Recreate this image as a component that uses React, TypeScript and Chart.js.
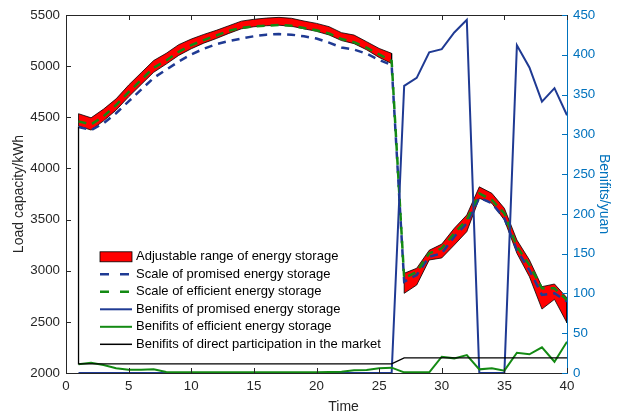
import React, { useEffect, useRef } from 'react';
import { Chart, registerables } from 'chart.js';

Chart.register(...registerables);

const FONT = "'Liberation Sans', Arial, Helvetica, sans-serif";
const AXIS_COLOR = '#262626';
const RIGHT_COLOR = '#0072bd';
const NAVY = '#1f3a93';
const GREEN = '#138a13';

// ---- data ----
const time = [1, 2, 3, 4, 5, 6, 7, 8, 9, 10, 11, 12, 13, 14, 15, 16, 17, 18, 19, 20,
  21, 22, 23, 24, 25, 26, 27, 28, 29, 30, 31, 32, 33, 34, 35, 36, 37, 38, 39, 40];

// adjustable range of energy storage, first block (t = 1..26)
const timeA = [1, 2, 3, 4, 5, 6, 7, 8, 9, 10, 11, 12, 13, 14, 15, 16, 17, 18, 19, 20, 21, 22, 23, 24, 25, 26];
const rangeUpperA = [4535, 4495, 4580, 4680, 4815, 4935, 5055, 5125, 5210, 5265, 5310, 5350, 5395,
  5440, 5458, 5470, 5477, 5468, 5441, 5418, 5386, 5327, 5304, 5239, 5173, 5125];
const rangeLowerA = [4415, 4375, 4465, 4570, 4700, 4820, 4940, 5020, 5105, 5170, 5225, 5270, 5320,
  5365, 5385, 5395, 5400, 5390, 5365, 5340, 5305, 5250, 5220, 5160, 5085, 5025];

// second block (t = 27..40)
const timeB = [27, 28, 29, 30, 31, 32, 33, 34, 35, 36, 37, 38, 39, 40];
const rangeUpperB = [2975, 3024, 3200, 3260, 3415, 3545, 3820, 3757, 3610, 3300, 3105, 2844, 2870, 2735];
const rangeLowerB = [2779, 2860, 3105, 3125, 3251, 3382, 3708, 3659, 3496, 3170, 2941, 2625, 2720, 2490];

const promisedScale = [4405, 4375, 4441, 4540, 4655, 4770, 4885, 4965, 5045, 5115, 5170, 5215, 5245,
  5270, 5292, 5308, 5314, 5308, 5292, 5270, 5230, 5182, 5162, 5122, 5060, 5010,
  2893, 2958, 3137, 3170, 3333, 3463, 3715, 3659, 3512, 3202, 3007, 2763, 2779, 2700];
const efficientScale = [4460, 4430, 4510, 4620, 4745, 4865, 4985, 5055, 5140, 5205, 5255, 5300, 5345,
  5375, 5388, 5396, 5402, 5395, 5372, 5350, 5320, 5265, 5235, 5180, 5115, 5050,
  2926, 2990, 3170, 3219, 3366, 3496, 3755, 3692, 3561, 3235, 3056, 2828, 2828, 2714];

const promisedBenefit = [0, 0, 0, 0, 0, 0, 0, 0, 0, 0, 0, 0, 0, 0, 0, 0, 0, 0, 0, 0, 0, 0, 0, 0, 0, 0,
  361, 371, 403, 407, 428, 444, 0, 0, 0, 412, 384, 341, 358, 324];
const efficientBenefit = [11, 13, 10, 6, 4, 4, 4.6, 1.3, 1, 1, 1, 1, 1, 1, 1, 1, 1, 1, 1, 0.8, 1.2, 1.7,
  3.4, 3.8, 5.9, 6.7, 0.8, 0.8, 0.8, 20.5, 18.4, 22.6, 4.6, 5.9, 2.9, 25.5, 23.5, 32.3, 14.2, 39.4];
const marketBenefit = [11.5, 11.5, 11.5, 11.5, 11.5, 11.5, 11.5, 11.5, 11.5, 11.5, 11.5, 11.5, 11.5,
  11.5, 11.5, 11.5, 11.5, 11.5, 11.5, 11.5, 11.5, 11.5, 11.5, 11.5, 11.5, 11.5,
  19, 19, 19, 19, 19, 19, 19, 19, 19, 19, 19, 19, 19, 19];
const marketLeadIn = 310;

const xTitle = 'Time';
const legendLabels = [
  'Adjustable range of energy storage',
  'Scale of promised energy storage',
  'Scale of efficient energy storage',
  'Benifits of promised energy storage',
  'Benifits of efficient energy storage',
  'Benifits of direct participation in the market',
];

// ---- helpers ----
function series(xs: number[], ys: number[]) {
  return xs.map((x, i) => ({ x, y: ys[i] }));
}
function polygon(xs: number[], upper: number[], lower: number[]) {
  const pts = xs.map((x, i) => ({ x, y: upper[i] }));
  for (let i = xs.length - 1; i >= 0; i--) pts.push({ x: xs[i], y: lower[i] });
  pts.push({ x: xs[0], y: upper[0] });
  return pts;
}
const plainTick = (v: any) => String(v);

const legendStyles = [
  { kind: 'patch', color: '#ff0000' },
  { kind: 'line', color: NAVY, dash: [9, 11], width: 2.5 },
  { kind: 'line', color: GREEN, dash: [9, 11], width: 2.5 },
  { kind: 'line', color: NAVY, dash: [], width: 2 },
  { kind: 'line', color: GREEN, dash: [], width: 2 },
  { kind: 'line', color: '#000000', dash: [], width: 1.5 },
];

const legendPlugin = {
  id: 'matlabLegend',
  afterDraw(chart: any) {
    const ctx = chart.ctx as CanvasRenderingContext2D;
    const x0 = 100, x1 = 132, tx = 136, y0 = 256.8, dy = 17.5;
    ctx.save();
    ctx.font = `13px ${FONT}`;
    ctx.textBaseline = 'middle';
    ctx.textAlign = 'left';
    legendLabels.forEach((label, i) => {
      const y = y0 + i * dy;
      const st = legendStyles[i];
      if (st.kind === 'patch') {
        ctx.fillStyle = st.color;
        ctx.fillRect(x0, y - 5, x1 - x0, 10);
        ctx.strokeStyle = '#000';
        ctx.lineWidth = 0.8;
        ctx.strokeRect(x0, y - 5, x1 - x0, 10);
      } else {
        ctx.strokeStyle = st.color;
        ctx.lineWidth = st.width as number;
        ctx.setLineDash(st.dash as number[]);
        ctx.beginPath();
        ctx.moveTo(x0, y);
        ctx.lineTo(x1, y);
        ctx.stroke();
        ctx.setLineDash([]);
      }
      ctx.fillStyle = '#000';
      ctx.fillText(label, tx, y);
    });
    ctx.restore();
  },
};

const axesPlugin = {
  id: 'matlabAxes',
  afterDraw(chart: any) {
    const { ctx, chartArea: a, scales } = chart;
    const len = 5;
    ctx.save();
    ctx.lineWidth = 1;
    ctx.strokeStyle = AXIS_COLOR;
    ctx.beginPath();
    ctx.moveTo(a.left, a.top + 0.5);
    ctx.lineTo(a.right, a.top + 0.5);
    ctx.stroke();
    ctx.beginPath();
    for (const t of scales.x.ticks) {
      const px = Math.round(scales.x.getPixelForValue(t.value)) + 0.5;
      ctx.moveTo(px, a.bottom);
      ctx.lineTo(px, a.bottom - len);
      ctx.moveTo(px, a.top);
      ctx.lineTo(px, a.top + len);
    }
    for (const t of scales.y.ticks) {
      const py = Math.round(scales.y.getPixelForValue(t.value)) + 0.5;
      ctx.moveTo(a.left, py);
      ctx.lineTo(a.left + len, py);
    }
    ctx.stroke();
    ctx.strokeStyle = RIGHT_COLOR;
    ctx.beginPath();
    for (const t of scales.y1.ticks) {
      const py = Math.round(scales.y1.getPixelForValue(t.value)) + 0.5;
      ctx.moveTo(a.right, py);
      ctx.lineTo(a.right - len, py);
    }
    ctx.stroke();
    // x-axis title, placed as in the reference figure
    ctx.font = `14px ${FONT}`;
    ctx.fillStyle = AXIS_COLOR;
    ctx.textAlign = 'center';
    ctx.textBaseline = 'middle';
    ctx.fillText(xTitle, a.left + (a.right - a.left) * 0.554, a.bottom + 34);
    ctx.restore();
  },
};

export default function App() {
  const ref = useRef<HTMLCanvasElement | null>(null);

  useEffect(() => {
    if (!ref.current) return;
    const tickFont = { family: FONT, size: 13.33 };
    const titleFont = { family: FONT, size: 14 };
    const chart = new Chart(ref.current, {
      type: 'line',
      data: {
        datasets: [
          {
            label: 'market',
            data: [{ x: time[0], y: marketLeadIn }, ...series(time, marketBenefit)],
            yAxisID: 'y1',
            borderColor: '#000000',
            borderWidth: 1.3,
            pointRadius: 0,
            fill: false,
            order: 1,
          },
          {
            label: 'efficientBenefit',
            data: series(time, efficientBenefit),
            yAxisID: 'y1',
            borderColor: GREEN,
            borderWidth: 2,
            pointRadius: 0,
            fill: false,
            order: 2,
          },
          {
            label: 'promisedBenefit',
            data: series(time, promisedBenefit),
            yAxisID: 'y1',
            borderColor: NAVY,
            borderWidth: 2,
            pointRadius: 0,
            fill: false,
            order: 3,
          },
          {
            label: 'efficientScale',
            data: series(time, efficientScale),
            yAxisID: 'y',
            borderColor: GREEN,
            borderWidth: 2.5,
            borderDash: [8, 6],
            pointRadius: 0,
            fill: false,
            order: 4,
          },
          {
            label: 'promisedScale',
            data: series(time, promisedScale),
            yAxisID: 'y',
            borderColor: NAVY,
            borderWidth: 2.5,
            borderDash: [8, 6],
            pointRadius: 0,
            fill: false,
            order: 5,
          },
          {
            label: 'rangeB',
            data: polygon(timeB, rangeUpperB, rangeLowerB),
            yAxisID: 'y',
            borderColor: '#000000',
            borderWidth: 0.8,
            backgroundColor: '#ff0000',
            pointRadius: 0,
            fill: 'shape',
            order: 6,
          },
          {
            label: 'rangeA',
            data: polygon(timeA, rangeUpperA, rangeLowerA),
            yAxisID: 'y',
            borderColor: '#000000',
            borderWidth: 0.8,
            backgroundColor: '#ff0000',
            pointRadius: 0,
            fill: 'shape',
            order: 7,
          },
        ],
      },
      options: {
        animation: false,
        responsive: false,
        devicePixelRatio: 1,
        layout: { padding: { top: 15, left: 0, right: 0, bottom: 0 } },
        plugins: {
          legend: { display: false },
          tooltip: { enabled: false },
        },
        elements: { line: { tension: 0 } },
        scales: {
          x: {
            type: 'linear',
            min: 0,
            max: 40,
            ticks: { stepSize: 5, color: AXIS_COLOR, font: tickFont, padding: 5, maxRotation: 0, callback: plainTick },
            grid: { display: false, drawTicks: false },
            border: { color: AXIS_COLOR, width: 1 },
            afterFit: (s: any) => { s.height = 43; },
          },
          y: {
            type: 'linear',
            position: 'left',
            min: 2000,
            max: 5500,
            ticks: { stepSize: 500, color: AXIS_COLOR, font: tickFont, padding: 6, callback: plainTick },
            grid: { display: false, drawTicks: false },
            border: { color: AXIS_COLOR, width: 1 },
            title: { display: true, text: 'Load capacity/kWh', color: AXIS_COLOR, font: titleFont, padding: { top: 11, bottom: 0 } },
            afterFit: (s: any) => { s.width = 66; },
          },
          y1: {
            type: 'linear',
            position: 'right',
            min: 0,
            max: 450,
            ticks: { stepSize: 50, color: RIGHT_COLOR, font: tickFont, padding: 6, callback: plainTick },
            grid: { display: false, drawTicks: false },
            border: { color: RIGHT_COLOR, width: 1 },
            title: { display: true, text: 'Benifits/yuan', color: RIGHT_COLOR, font: titleFont, padding: { top: 6, bottom: 0 } },
            afterFit: (s: any) => { s.width = 51; },
          },
        },
      },
      plugins: [axesPlugin, legendPlugin],
    } as any);
    return () => chart.destroy();
  }, []);

  return (
    <div style={{ position: 'absolute', left: 0, top: 0, width: 618, height: 416, background: '#fff' }}>
      <canvas ref={ref} width={618} height={416} style={{ display: 'block' }} />
    </div>
  );
}
